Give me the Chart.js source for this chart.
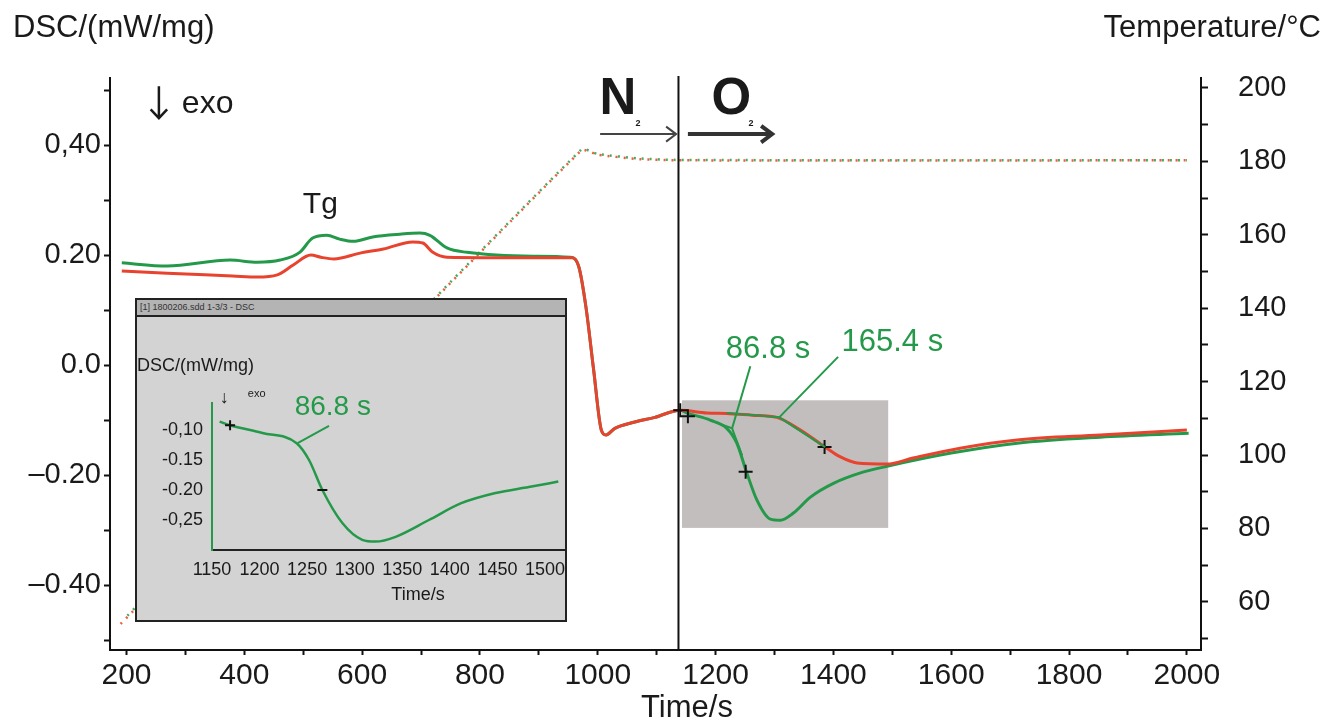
<!DOCTYPE html>
<html>
<head>
<meta charset="utf-8">
<script src="https://cdn.jsdelivr.net/npm/chart.js@4.4.1/dist/chart.umd.min.js"></script>
<style>
  html, body { margin: 0; padding: 0; background: #fff; }
  #wrap { position: relative; width: 1330px; height: 723px; overflow: hidden; }
  #main { position: absolute; left: 0; top: 0; }
  #inset { position: absolute; left: 135px; top: 298px; width: 432px; height: 324px; box-sizing: border-box;
           border: 2px solid #222; background: #d3d3d3; }
  #insetBar { height: 15px; background: #b4b4b4; border-bottom: 2px solid #222; color: #333; white-space: nowrap;
              font: 9px 'Liberation Sans', Arial, sans-serif; line-height: 15px; padding-left: 3px; }
  #insetCanvas { position: absolute; left: 0; top: 17px; }
</style>
</head>
<body>
<div id="wrap">
  <canvas id="main" width="1330" height="723"></canvas>
  <div id="inset">
    <div id="insetBar">[1] 1800206.sdd 1-3/3 - DSC</div>
    <canvas id="insetCanvas" width="428" height="303"></canvas>
  </div>
</div>
<script>
// ---- main chart data ----
const timeTicks = [200, 400, 600, 800, 1000, 1200, 1400, 1600, 1800, 2000];
const timeTickLabels = ['200', '400', '600', '800', '1000', '1200', '1400', '1600', '1800', '2000'];
const timeMinor = [300, 500, 700, 900, 1100, 1300, 1500, 1700, 1900];

const dscTicks = [0.4, 0.2, 0, -0.2, -0.4];
const dscTickLabels = ['0,40', '0.20', '0.0', '\u20130.20', '\u20130.40'];
const dscMinor = [0.5, 0.3, 0.1, -0.1, -0.3, -0.5];

const tempTicks = [200, 180, 160, 140, 120, 100, 80, 60];
const tempMinor = [190, 170, 150, 130, 110, 90, 70, 50];

// DSC signal, green run
const greenTime = [192, 269, 376, 422, 461, 494, 516, 540, 562, 585, 618, 664, 698, 715, 744, 778, 890, 953, 968, 980,
                   993, 1006, 1014, 1029, 1061, 1097, 1140, 1151, 1191, 1219, 1236, 1253, 1270, 1293, 1310, 1332, 1361, 1400,
                   1446, 1491, 1600, 1712, 1853, 2003];
const greenDsc = [0.186, 0.180, 0.191, 0.187, 0.191, 0.205, 0.231, 0.236, 0.229, 0.225, 0.233, 0.238, 0.240, 0.236, 0.213,
                  0.205, 0.198, 0.196, 0.178, 0.105, -0.009, -0.118, -0.127, -0.115, -0.104, -0.095, -0.082, -0.087, -0.100,
                  -0.115, -0.142, -0.196, -0.245, -0.280, -0.282, -0.269, -0.240, -0.215, -0.196, -0.184, -0.160, -0.142,
                  -0.131, -0.124];

// DSC signal, red run
const redTime = [192, 269, 380, 422, 456, 483, 513, 530, 552, 598, 636, 686, 703, 720, 744, 890, 957, 968, 980, 993,
                 1006, 1014, 1029, 1061, 1097, 1140, 1185, 1219, 1262, 1304, 1344, 1386, 1412, 1440, 1491, 1535, 1615,
                 1712, 1853, 2000];
const redDsc = [0.171, 0.167, 0.162, 0.160, 0.164, 0.182, 0.200, 0.196, 0.193, 0.204, 0.211, 0.224, 0.222, 0.205, 0.196,
                0.195, 0.195, 0.178, 0.105, -0.009, -0.118, -0.127, -0.115, -0.104, -0.095, -0.082, -0.087, -0.088, -0.091,
                -0.095, -0.118, -0.149, -0.167, -0.178, -0.180, -0.169, -0.151, -0.136, -0.127, -0.118];

// furnace temperature
const greenTempTime = [197, 972, 1000, 1070, 1130, 1500, 2000];
const greenTemp = [55.5, 183.2, 182.0, 180.8, 180.4, 180.3, 180.3];
const redTempTime = [190, 972, 1000, 1070, 1130, 1500, 2000];
const redTemp = [54.0, 183.0, 181.8, 180.6, 180.3, 180.2, 180.3];

// onset markers (+)
const crossTime = [1140, 1153, 1251, 1385];
const crossDsc = [-0.082, -0.093, -0.194, -0.149];

const gasSwitch = 1137;
const o2Window = [1143, 1493, -0.064, -0.296];

// ---- inset data ----
const insetTicks = [1150, 1200, 1250, 1300, 1350, 1400, 1450, 1500];
const insetDscTicks = [-0.10, -0.15, -0.20, -0.25];
const insetDscLabels = ['-0,10', '-0.15', '-0.20', '-0,25'];
const insetTime = [1158, 1169, 1203, 1239, 1252, 1266, 1287, 1308, 1322, 1343, 1378, 1412, 1448, 1483, 1514];
const insetDsc = [-0.086, -0.092, -0.105, -0.122, -0.150, -0.200, -0.255, -0.283, -0.286, -0.278, -0.250, -0.222,
                  -0.205, -0.195, -0.186];
const insetMarkTime = [1169, 1266];
const insetMarkDsc = [-0.092, -0.200];

const GREEN = '#25994a';
const RED = '#e8432f';
const INK = '#1a1a1a';
const FONT = "'Liberation Sans', Arial, sans-serif";

Chart.defaults.font.family = FONT;
Chart.defaults.color = INK;

const pts = (xs, ys) => xs.map((t, i) => ({ x: t, y: ys[i] }));
const tickList = (a, b) => [...a, ...b].sort((p, q) => p - q).map(v => ({ value: v }));
const labelFrom = (vals, labels) => v => { const i = vals.indexOf(v); return i >= 0 ? labels[i] : ''; };
// keep the plot area where afterFit put it, labels may hang over
const noOverhang = s => { s.paddingLeft = 0; s.paddingRight = 0; s.paddingTop = 0; s.paddingBottom = 0; };

function arrow(ctx, xa, xb, yy, w, head) {
    ctx.lineWidth = w;
    ctx.beginPath(); ctx.moveTo(xa, yy); ctx.lineTo(xb - 2, yy); ctx.stroke();
    ctx.beginPath(); ctx.moveTo(xb - head, yy - head * 0.75); ctx.lineTo(xb, yy); ctx.lineTo(xb - head, yy + head * 0.75); ctx.stroke();
}

const mainDecor = {
    id: 'mainDecor',
    beforeDatasetsDraw(chart) {
        const { ctx, scales: { x, y } } = chart;
        const x0 = x.getPixelForValue(o2Window[0]), x1 = x.getPixelForValue(o2Window[1]);
        const y0 = y.getPixelForValue(o2Window[2]), y1 = y.getPixelForValue(o2Window[3]);
        ctx.save();
        ctx.fillStyle = '#c2bebe';
        ctx.fillRect(x0, y0, x1 - x0, y1 - y0);
        ctx.restore();
    },
    afterDatasetsDraw(chart) {
        const { ctx, chartArea, scales: { x, y } } = chart;
        const X = t => x.getPixelForValue(t), Y = v => y.getPixelForValue(v);
        ctx.save();

        // gas switch N2 -> O2
        ctx.strokeStyle = '#111';
        ctx.lineWidth = 2;
        ctx.beginPath();
        ctx.moveTo(X(gasSwitch), chartArea.top - 2);
        ctx.lineTo(X(gasSwitch), chartArea.bottom);
        ctx.stroke();

        // onset construction lines
        ctx.strokeStyle = GREEN;
        ctx.lineWidth = 2;
        const leaders = [
            [[1259, -0.002], [1228, -0.115]], [[1190, -0.100], [1228, -0.115], [1245, -0.164]],
            [[1408, 0.015], [1308, -0.095]], [[1219, -0.087], [1308, -0.095], [1386, -0.149]]
        ];
        leaders.forEach(seg => {
            ctx.beginPath();
            seg.forEach(([t, v], i) => i ? ctx.lineTo(X(t), Y(v)) : ctx.moveTo(X(t), Y(v)));
            ctx.stroke();
        });

        // arrows for gases
        ctx.strokeStyle = '#444';
        arrow(ctx, X(1004), X(1133), Y(0.42), 2, 10);
        ctx.strokeStyle = '#333';
        arrow(ctx, X(1153), X(1296), Y(0.42), 4, 11);

        // exo arrow
        ctx.strokeStyle = INK;
        ctx.lineWidth = 2.5;
        ctx.beginPath();
        ctx.moveTo(X(255), Y(0.507)); ctx.lineTo(X(255), Y(0.449));
        ctx.moveTo(X(241), Y(0.465)); ctx.lineTo(X(255), Y(0.449)); ctx.lineTo(X(269), Y(0.465));
        ctx.stroke();

        ctx.textBaseline = 'middle';
        ctx.fillStyle = INK;
        ctx.textAlign = 'left';
        ctx.font = '32px ' + FONT;
        ctx.fillText('exo', X(294), Y(0.474));
        ctx.textAlign = 'center';
        ctx.font = '30px ' + FONT;
        ctx.fillText('Tg', X(529), Y(0.291));

        ctx.textAlign = 'left';
        ctx.font = 'bold 51px ' + FONT;
        ctx.fillText('N', X(1003), Y(0.482));
        ctx.fillText('O', X(1193), Y(0.482));
        ctx.font = 'bold 9px ' + FONT;
        ctx.fillText('2', X(1064), Y(0.440));
        ctx.fillText('2', X(1256), Y(0.440));

        ctx.fillStyle = GREEN;
        ctx.textAlign = 'center';
        ctx.font = '31px ' + FONT;
        ctx.fillText('86.8 s', X(1289), Y(0.029));
        ctx.fillText('165.4 s', X(1500), Y(0.042));
        ctx.restore();
    },
    afterDraw(chart) {
        const { ctx } = chart;
        ctx.save();
        ctx.fillStyle = INK;
        ctx.textBaseline = 'middle';
        ctx.font = '31px ' + FONT;
        ctx.textAlign = 'left';
        ctx.fillText('DSC/(mW/mg)', 13, 28);
        ctx.textAlign = 'right';
        ctx.fillText('Temperature/\u00b0C', 1321, 28);
        ctx.textAlign = 'center';
        ctx.fillText('Time/s', 687, 708);
        ctx.restore();
    }
};

new Chart(document.getElementById('main'), {
    type: 'line',
    data: {
        datasets: [
            {
                type: 'scatter', data: pts(crossTime, crossDsc), yAxisID: 'y', order: 0,
                pointStyle: 'cross', pointRadius: 7, borderColor: '#111', borderWidth: 2
            },
            {
                data: pts(redTime, redDsc), yAxisID: 'y', order: 1, borderColor: RED, borderWidth: 3,
                pointRadius: 0, cubicInterpolationMode: 'monotone'
            },
            {
                data: pts(greenTime, greenDsc), yAxisID: 'y', order: 2, borderColor: GREEN, borderWidth: 3,
                pointRadius: 0, cubicInterpolationMode: 'monotone'
            },
            {
                data: pts(redTempTime, redTemp), yAxisID: 'yT', order: 3, borderColor: '#e8603c', borderWidth: 2.5,
                borderDash: [2, 6], pointRadius: 0, tension: 0.2
            },
            {
                data: pts(greenTempTime, greenTemp), yAxisID: 'yT', order: 4, borderColor: '#4aa860', borderWidth: 2.5,
                borderDash: [2, 6], borderDashOffset: 4, pointRadius: 0, tension: 0.2
            }
        ]
    },
    options: {
        responsive: false,
        animation: false,
        layout: { autoPadding: false, padding: { top: 78, left: 0, right: 0, bottom: 0 } },
        plugins: { legend: { display: false }, tooltip: { enabled: false } },
        scales: {
            x: {
                type: 'linear', min: 172, max: 2024,
                afterFit: s => { s.height = 73; noOverhang(s); },
                afterBuildTicks: s => { s.ticks = tickList(timeTicks, timeMinor); },
                grid: { drawOnChartArea: false, tickLength: 5, tickWidth: 2, color: '#111' },
                border: { color: '#111', width: 2 },
                ticks: { font: { size: 30 }, padding: 3, autoSkip: false, maxRotation: 0,
                         callback: labelFrom(timeTicks, timeTickLabels) }
            },
            y: {
                position: 'left', min: -0.518, max: 0.522,
                afterFit: s => { s.width = 110; noOverhang(s); },
                afterBuildTicks: s => { s.ticks = tickList(dscTicks, dscMinor); },
                grid: { drawOnChartArea: false, tickLength: 6, tickWidth: 2, color: '#111' },
                border: { color: '#111', width: 2 },
                ticks: { font: { size: 29 }, padding: 3, autoSkip: false,
                         callback: labelFrom(dscTicks, dscTickLabels) }
            },
            yT: {
                position: 'right', min: 46.9, max: 202.7,
                afterFit: s => { s.width = 129; noOverhang(s); },
                afterBuildTicks: s => { s.ticks = tickList(tempTicks, tempMinor); },
                grid: { drawOnChartArea: false, tickLength: 7, tickWidth: 2, color: '#111' },
                border: { color: '#111', width: 2 },
                ticks: { font: { size: 29 }, padding: 30, autoSkip: false,
                         callback: labelFrom(tempTicks, tempTicks.map(String)) }
            }
        }
    },
    plugins: [mainDecor]
});

// ---- inset ----
const insetDecor = {
    id: 'insetDecor',
    afterDatasetsDraw(chart) {
        const { ctx, scales: { x, y } } = chart;
        const X = t => x.getPixelForValue(t), Y = v => y.getPixelForValue(v);
        ctx.save();
        ctx.strokeStyle = GREEN;
        ctx.lineWidth = 2;
        ctx.beginPath();
        ctx.moveTo(X(1273), Y(-0.093));
        ctx.lineTo(X(1240), Y(-0.122));
        ctx.stroke();

        ctx.textBaseline = 'middle';
        ctx.fillStyle = GREEN;
        ctx.textAlign = 'center';
        ctx.font = '28px ' + FONT;
        ctx.fillText('86.8 s', X(1277), Y(-0.0617));

        ctx.fillStyle = INK;
        ctx.font = 'bold 18px ' + FONT;
        ctx.fillText('\u2193', X(1163), Y(-0.047));
        ctx.font = '11px ' + FONT;
        ctx.fillText('exo', X(1197), Y(-0.040));
        ctx.restore();
    },
    afterDraw(chart) {
        const { ctx } = chart;
        ctx.save();
        ctx.fillStyle = INK;
        ctx.textBaseline = 'middle';
        ctx.font = '18px ' + FONT;
        ctx.textAlign = 'left';
        ctx.fillText('DSC/(mW/mg)', 0, 49);
        ctx.textAlign = 'center';
        ctx.fillText('Time/s', 281, 278);
        ctx.restore();
    }
};

new Chart(document.getElementById('insetCanvas'), {
    type: 'line',
    data: {
        datasets: [
            {
                type: 'scatter', data: pts(insetMarkTime, insetMarkDsc), order: 0,
                pointStyle: ['cross', 'line'], pointRadius: 5, borderColor: '#111', borderWidth: 2
            },
            {
                data: pts(insetTime, insetDsc), order: 1, borderColor: GREEN, borderWidth: 2.5,
                pointRadius: 0, cubicInterpolationMode: 'monotone'
            }
        ]
    },
    options: {
        responsive: false,
        animation: false,
        layout: { autoPadding: false, padding: { top: 86, right: 1, left: 0, bottom: 0 } },
        plugins: { legend: { display: false }, tooltip: { enabled: false } },
        scales: {
            x: {
                type: 'linear', min: 1150, max: 1520,
                afterFit: s => { s.height = 70; noOverhang(s); },
                afterBuildTicks: s => { s.ticks = insetTicks.map(v => ({ value: v })); },
                grid: { drawOnChartArea: false, drawTicks: false },
                border: { color: '#222', width: 2 },
                ticks: { font: { size: 18 }, color: '#1a1a1a', padding: 9, autoSkip: false, maxRotation: 0,
                         callback: v => String(v) }
            },
            y: {
                min: -0.30, max: -0.055,
                afterFit: s => { s.width = 75; noOverhang(s); },
                afterBuildTicks: s => { s.ticks = insetDscTicks.map(v => ({ value: v })); },
                grid: { drawOnChartArea: false, drawTicks: false },
                border: { color: GREEN, width: 2 },
                ticks: { font: { size: 18 }, color: '#1a1a1a', padding: 9, autoSkip: false,
                         callback: labelFrom(insetDscTicks, insetDscLabels) }
            }
        }
    },
    plugins: [insetDecor]
});
</script>
</body>
</html>
